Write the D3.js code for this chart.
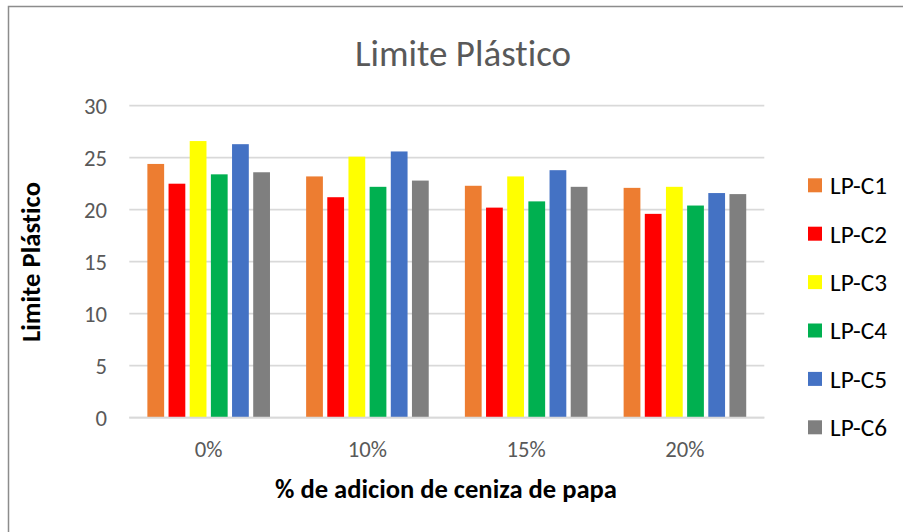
<!DOCTYPE html>
<html>
<head>
<meta charset="utf-8">
<script src="https://cdn.jsdelivr.net/npm/d3@7"></script>
<style>
  html, body { margin: 0; padding: 0; background: #fff; }
  svg { display: block; }
  text { font-family: Carlito, "Open Sans", "Noto Sans", "DejaVu Sans", sans-serif; font-variant-ligatures: none; }
</style>
</head>
<body>
<svg id="chart" width="903" height="532"></svg>
<script>
// Categories: % of potato ash added
const categories = ["0%", "10%", "15%", "20%"];
// Series names
const seriesNames = ["LP-C1", "LP-C2", "LP-C3", "LP-C4", "LP-C5", "LP-C6"];
// Plastic limit values, one array per series (in category order)
const lpC1 = [24.4, 23.2, 22.3, 22.1];
const lpC2 = [22.5, 21.2, 20.2, 19.6];
const lpC3 = [26.6, 25.1, 23.2, 22.2];
const lpC4 = [23.4, 22.2, 20.8, 20.4];
const lpC5 = [26.3, 25.6, 23.8, 21.6];
const lpC6 = [23.6, 22.8, 22.2, 21.5];
const seriesValues = [lpC1, lpC2, lpC3, lpC4, lpC5, lpC6];
const seriesColors = ["#ed7d31", "#ff0000", "#ffff00", "#00b050", "#4472c4", "#7f7f7f"];
// Y axis ticks
const yTicks = [0, 5, 10, 15, 20, 25, 30];

const titleText = "Limite Plástico";
const xTitleText = "% de adicion de ceniza de papa";
const yTitleText = "Limite Plástico";

const svg = d3.select("#chart");

// Outer chart frame
svg.append("rect")
  .attr("x", 8.5).attr("y", 6.5)
  .attr("width", 910).attr("height", 540)
  .attr("fill", "none").attr("stroke", "#8c8c8c").attr("stroke-width", 1.5);

const plot = { left: 129.3, right: 764.3, top: 105.7, bottom: 417.7 };

const x0 = d3.scaleBand()
  .domain(categories)
  .range([plot.left, plot.right])
  .paddingInner(0.2)
  .paddingOuter(0.1);

const x1 = d3.scaleBand()
  .domain(seriesNames)
  .range([0, x0.bandwidth()]);

const y = d3.scaleLinear().domain([0, 30]).range([plot.bottom, plot.top]);

// Find a font size that gives a text a target width
function sizeFor(str, weight, target) {
  const t = svg.append("text").attr("font-size", 100).attr("font-weight", weight).text(str);
  const w = t.node().getComputedTextLength();
  t.remove();
  return 100 * target / w;
}
const tickSize = sizeFor("30", "normal", 23);

// Gridlines
svg.append("g")
  .selectAll("line")
  .data(yTicks)
  .join("line")
  .attr("x1", plot.left).attr("x2", plot.right)
  .attr("y1", d => y(d)).attr("y2", d => y(d))
  .attr("stroke", "#d9d9d9").attr("stroke-width", 1.8);

// Y tick labels
svg.append("g")
  .selectAll("text")
  .data(yTicks)
  .join("text")
  .attr("x", 107).attr("y", d => y(d))
  .attr("dy", "0.35em")
  .attr("text-anchor", "end")
  .attr("fill", "#595959")
  .attr("font-size", tickSize)
  .text(d => d);

// Bars
const inset = 2.2;
const groups = svg.append("g")
  .selectAll("g")
  .data(categories)
  .join("g")
  .attr("transform", d => `translate(${x0(d)},0)`);

groups.selectAll("rect")
  .data((c, ci) => seriesNames.map((s, si) => ({ s, v: seriesValues[si][ci], color: seriesColors[si] })))
  .join("rect")
  .attr("x", d => x1(d.s) + inset)
  .attr("width", x1.bandwidth() - 2 * inset)
  .attr("y", d => y(d.v))
  .attr("height", d => y(0) - y(d.v))
  .attr("fill", d => d.color);

// Baseline
svg.append("line")
  .attr("x1", plot.left).attr("x2", plot.right)
  .attr("y1", y(0)).attr("y2", y(0))
  .attr("stroke", "#d9d9d9").attr("stroke-width", 1.8);

// X tick labels
svg.append("g")
  .selectAll("text")
  .data(categories)
  .join("text")
  .attr("x", d => x0(d) + x0.bandwidth() / 2)
  .attr("y", 457)
  .attr("text-anchor", "middle")
  .attr("fill", "#595959")
  .attr("font-size", tickSize)
  .text(d => d);

// Title
svg.append("text")
  .attr("x", 463).attr("y", 66)
  .attr("text-anchor", "middle")
  .attr("fill", "#595959")
  .attr("font-size", sizeFor(titleText, 300, 216))
  .attr("font-weight", 300)
  .text(titleText);

// X axis title
svg.append("text")
  .attr("x", 446).attr("y", 498)
  .attr("text-anchor", "middle")
  .attr("fill", "#000")
  .attr("font-size", sizeFor(xTitleText, "bold", 342))
  .attr("font-weight", "bold")
  .text(xTitleText);

// Y axis title
svg.append("text")
  .attr("transform", "translate(40,262) rotate(-90)")
  .attr("text-anchor", "middle")
  .attr("fill", "#000")
  .attr("font-size", sizeFor(yTitleText, "bold", 160))
  .attr("font-weight", "bold")
  .text(yTitleText);

// Legend
const legendSize = sizeFor("LP-C1", "normal", 57);
const legend = svg.append("g")
  .selectAll("g")
  .data(seriesNames)
  .join("g")
  .attr("transform", (d, i) => `translate(808,${185.3 + i * 48.4})`);

legend.append("rect")
  .attr("x", 0).attr("y", -7)
  .attr("width", 14).attr("height", 14)
  .attr("fill", (d, i) => seriesColors[i]);

legend.append("text")
  .attr("x", 22).attr("y", 0)
  .attr("dy", "0.35em")
  .attr("fill", "#000")
  .attr("font-size", legendSize)
  .text(d => d);
</script>
</body>
</html>
